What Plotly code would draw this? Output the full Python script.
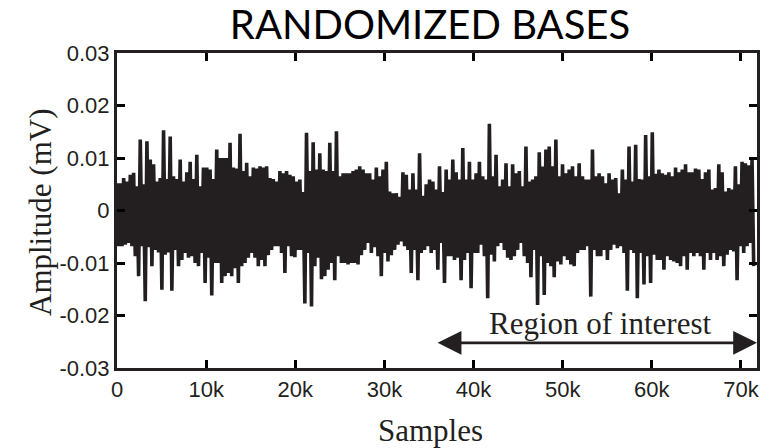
import plotly.graph_objects as go

# ---- data (in units of 1e-3 mV) ----
samples_per_pair = 373  # horizontal spacing between successive oscillation cycles

peak_hi_e3 = [
    # 0 - 18k
    5.2, 5.2, 6.2, 5.5, 6.8, 7.2, 4.6, 13.5, 5.0, 13.2,
    9.7, 8.8, 5.5, 6.2, 15.3, 6.0, 14.1, 6.5, 6.0, 9.7,
    5.5, 7.3, 9.3, 6.0, 10.6, 4.6, 8.2, 8.2, 7.8, 6.0,
    11.6, 10.0, 10.0, 10.0, 12.9, 8.2, 8.0, 14.6, 7.5, 9.1,
    6.5, 8.2, 8.0, 8.4, 8.2, 8.4, 6.2, 6.0,
    # 18k - 36k
    5.5, 7.5, 7.1, 7.5, 6.8, 6.5, 5.5, 5.9, 3.5, 14.8,
    7.5, 13.0, 7.8, 10.9, 7.8, 7.5, 12.9, 7.5, 15.1, 6.5,
    7.1, 7.1, 7.1, 7.5, 7.8, 8.4, 7.8, 7.1, 7.1, 5.9,
    8.2, 6.5, 7.8, 9.3, 3.6, 3.3, 3.3, 2.6, 7.3, 6.8,
    4.0, 7.1, 4.0, 10.9, 2.8, 5.0, 5.9, 5.5,
    # 36k - 54k
    4.0, 8.4, 3.5, 7.8, 5.9, 9.7, 7.3, 5.9, 11.9, 5.9,
    9.3, 5.9, 7.1, 9.3, 6.5, 5.9, 16.5, 6.5, 10.6, 4.6,
    5.9, 9.0, 4.6, 8.8, 7.1, 7.5, 4.6, 12.2, 5.5, 5.9,
    6.5, 11.1, 8.4, 11.6, 12.2, 8.4, 13.5, 6.5, 8.8, 7.1,
    7.8, 8.4, 6.5, 9.0, 6.5, 5.9, 5.9, 11.6,
    # 54k - 72k
    6.5, 7.1, 6.5, 5.2, 7.1, 5.9, 6.2, 3.3, 7.8, 5.9,
    12.2, 5.5, 12.5, 6.0, 5.9, 14.4, 6.5, 14.9, 7.0, 7.8,
    7.1, 6.8, 7.3, 6.5, 8.2, 7.3, 7.8, 8.8, 7.3, 7.3,
    8.0, 7.8, 6.0, 7.3, 7.8, 4.0, 4.3, 8.8, 7.3, 3.6,
    4.3, 4.0, 8.4, 5.0, 9.3, 9.0, 8.6, 9.7,
]

peak_lo_e3 = [
    # 0 - 18k
    -6.8, -6.8, -6.5, -6.2, -6.8, -8.7, -12.5, -6.8, -17.3, -7.0,
    -10.6, -7.5, -8.0, -15.1, -8.4, -8.0, -15.3, -7.5, -10.6, -9.4,
    -8.1, -9.0, -8.7, -10.0, -10.6, -8.1, -13.8, -9.0, -16.2, -10.0,
    -10.0, -13.8, -12.5, -11.9, -12.5, -11.0, -13.8, -10.6, -10.0, -9.0,
    -8.1, -9.0, -10.6, -9.4, -10.6, -8.5, -7.5, -6.8,
    # 18k - 36k
    -6.8, -8.1, -11.9, -6.8, -8.7, -8.9, -7.5, -7.5, -17.7, -8.1,
    -18.3, -10.6, -9.0, -13.1, -12.5, -11.3, -10.0, -13.3, -8.7, -10.0,
    -10.0, -10.3, -10.0, -10.0, -10.3, -8.5, -7.5, -6.2, -8.1, -7.0,
    -8.7, -12.5, -8.1, -9.7, -8.5, -7.5, -6.5, -5.9, -6.8, -7.5,
    -11.9, -7.5, -13.3, -8.1, -7.5, -6.8, -8.1, -7.5,
    # 36k - 54k
    -11.3, -6.2, -13.8, -8.7, -8.7, -9.4, -9.0, -13.3, -9.4, -8.1,
    -14.8, -8.1, -8.1, -6.5, -8.7, -16.7, -8.4, -9.7, -6.8, -6.2,
    -7.5, -9.0, -9.4, -8.7, -7.5, -6.2, -8.7, -10.0, -12.7, -7.5,
    -18.0, -8.7, -16.1, -10.0, -10.6, -12.7, -9.7, -10.3, -8.7, -9.4,
    -10.3, -10.6, -8.1, -7.5, -7.5, -6.8, -16.4, -7.5,
    # 54k - 72k
    -8.7, -8.7, -7.5, -9.4, -7.5, -6.5, -7.2, -6.8, -8.1, -15.3,
    -7.5, -8.1, -16.7, -8.1, -14.1, -8.7, -13.8, -8.4, -9.4, -9.4,
    -11.3, -8.7, -9.4, -9.7, -10.0, -10.6, -8.7, -11.3, -8.1, -8.7,
    -8.1, -8.7, -11.3, -8.1, -9.4, -8.1, -9.4, -8.7, -10.6, -8.4,
    -7.5, -7.8, -13.3, -6.8, -8.1, -6.8, -6.2, -10.6,
]

x_ticks = [0, 10000, 20000, 30000, 40000, 50000, 60000, 70000]
x_tick_labels = ["0", "10k", "20k", "30k", "40k", "50k", "60k", "70k"]
y_ticks = [0.03, 0.02, 0.01, 0.0, -0.01, -0.02, -0.03]
y_tick_labels = ["0.03", "0.02", "0.01", "0", "-0.01", "-0.02", "-0.03"]

region_start = 35800
region_end = 71800
region_level = -0.0252

# ---- build the trace ----
xs, ys = [], []
for i, (h, l) in enumerate(zip(peak_hi_e3, peak_lo_e3)):
    xs.append(i * samples_per_pair)
    ys.append(h / 1000.0)
    xs.append(i * samples_per_pair + samples_per_pair / 2)
    ys.append(l / 1000.0)

INK = "#231f20"

fig = go.Figure(
    go.Scatter(x=xs, y=ys, mode="lines",
               line=dict(color=INK, width=3.6), hoverinfo="skip")
)

W, H = 769, 448
L, R, T, B = 117, 12, 53, 80
pw, ph = W - L - R, H - T - B

def px(xp):
    return (xp - L) / pw

def py(yp):
    return (H - B - yp) / ph

tick_font = dict(family="Liberation Sans", size=22, color=INK)
axis_style = dict(
    ticks="inside", ticklen=8, tickwidth=3, tickcolor="#000000",
    showline=True, linewidth=3, linecolor=INK, mirror="allticks",
    showgrid=False, zeroline=False, automargin=False, tickfont=tick_font,
)

fig.update_layout(
    width=W, height=H,
    margin=dict(l=L, r=R, t=T, b=B),
    paper_bgcolor="white", plot_bgcolor="white",
    showlegend=False,
    title=dict(text="RANDOMIZED BASES", x=430 / W, xanchor="center",
               y=1 - 25 / H, yanchor="middle",
               font=dict(family="Lato", size=40, color="black")),
    xaxis=dict(range=[0, 71800], tickmode="array",
               tickvals=x_ticks, ticktext=x_tick_labels, **axis_style),
    yaxis=dict(range=[-0.03, 0.03], tickmode="array",
               tickvals=y_ticks, ticktext=y_tick_labels, **axis_style),
)

serif = dict(family="Liberation Serif", size=31, color=INK)
fig.add_annotation(text="Amplitude (mV)", textangle=-90, xref="paper", yref="paper",
                   x=px(40), y=py(212), xanchor="center", yanchor="middle",
                   showarrow=False, font=serif)
fig.add_annotation(text="Samples", xref="paper", yref="paper",
                   x=px(430), y=py(430), xanchor="center", yanchor="middle",
                   showarrow=False, font=serif)
fig.add_annotation(text="Region of interest", xref="paper", yref="paper",
                   x=px(600), y=py(323), xanchor="center", yanchor="middle",
                   showarrow=False, font=serif)
fig.add_annotation(text="", x=region_end, y=region_level, xref="x", yref="y",
                   ax=region_start, ay=region_level, axref="x", ayref="y",
                   showarrow=True, arrowside="end+start",
                   arrowhead=2, startarrowhead=2,
                   arrowsize=1.7, startarrowsize=1.7,
                   arrowwidth=2.8, arrowcolor=INK)

fig.write_html("out.html")
